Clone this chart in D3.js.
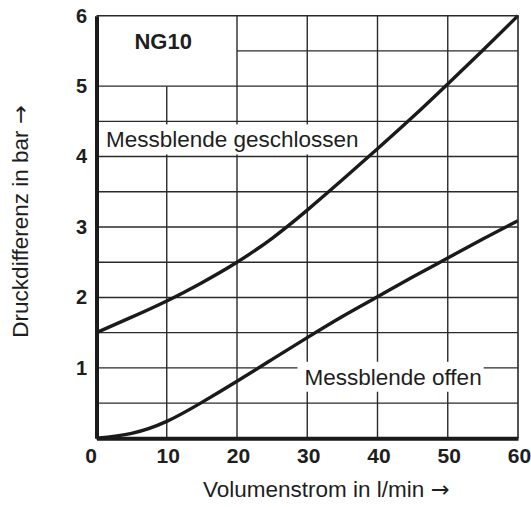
<!DOCTYPE html>
<html lang="de">
  <head>
    <meta charset="UTF-8" />
    <script src="https://d3js.org/d3.v7.min.js"></script>
    <title>NG10 Druckdifferenz</title>
    <style>
      body { margin: 0; background: #fff; }
      svg text { font-family: "Liberation Sans", Arial, sans-serif; fill: #1e1e1e; }
      .arrow { font-family: "DejaVu Sans", sans-serif; }
    </style>
  </head>
  <body>
    <svg width="531" height="507"></svg>
    <script>
      // Volumenstrom (l/min) and Druckdifferenz (bar)
      var flow = [0, 5, 10, 15, 20, 25, 30, 35, 40, 45, 50, 55, 60];
      var closedDp = [1.5, 1.72, 1.95, 2.21, 2.5, 2.84, 3.24, 3.67, 4.11, 4.56, 5.03, 5.51, 6.0];
      var openDp = [0, 0.07, 0.24, 0.51, 0.81, 1.12, 1.43, 1.73, 2.01, 2.29, 2.56, 2.83, 3.09];

      var xTicks = [0, 10, 20, 30, 40, 50, 60];
      var yTicks = [1, 2, 3, 4, 5, 6];
      var xGrid = [10, 20, 30, 40, 50];
      var yGrid = [0.5, 1, 1.5, 2, 2.5, 3, 3.5, 4, 4.5, 5, 5.5];

      var labels = [
        { text: "Messblende geschlossen", x: 1.35, y: 4.13 },
        { text: "Messblende offen", x: 29.6, y: 0.76 },
      ];

      var svg = d3.select("svg"),
        margin = { top: 15.7, right: 13, bottom: 68.7, left: 96.5 },
        width = +svg.attr("width") - margin.left - margin.right,
        height = +svg.attr("height") - margin.top - margin.bottom,
        g = svg
          .append("g")
          .attr("transform", "translate(" + margin.left + "," + margin.top + ")");

      var x = d3.scaleLinear().domain([0, 60]).range([0, width]);
      var y = d3.scaleLinear().domain([0, 6]).range([height, 0]);

      // grid, leaving the NG10 box (0-20, 5-6) empty
      g.append("g")
        .selectAll("line")
        .data(xGrid)
        .enter()
        .append("line")
        .attr("x1", function (d) { return x(d); })
        .attr("x2", function (d) { return x(d); })
        .attr("y1", function (d) { return d < 20 ? y(5) : y(6); })
        .attr("y2", y(0))
        .attr("stroke", "#2a2a2a")
        .attr("stroke-width", 1.4);

      g.append("g")
        .selectAll("line")
        .data(yGrid)
        .enter()
        .append("line")
        .attr("x1", function (d) { return d > 5 ? x(20) : x(0); })
        .attr("x2", x(60))
        .attr("y1", function (d) { return y(d); })
        .attr("y2", function (d) { return y(d); })
        .attr("stroke", "#2a2a2a")
        .attr("stroke-width", 1.4);

      // curve labels on white boxes
      var lab = g.append("g").selectAll("g").data(labels).enter().append("g");
      var labText = lab
        .append("text")
        .attr("x", function (d) { return x(d.x); })
        .attr("y", function (d) { return y(d.y); })
        .attr("font-size", 22.5)
        .text(function (d) { return d.text; });
      labText.each(function (d) {
        var b = this.getBBox();
        d3.select(this.parentNode)
          .insert("rect", "text")
          .attr("x", Math.max(0, b.x - 7))
          .attr("y", b.y - 3)
          .attr("width", b.width + 9)
          .attr("height", b.height + 5)
          .attr("fill", "#fff");
      });

      g.append("text")
        .attr("x", x(9.5))
        .attr("y", y(5.53))
        .attr("text-anchor", "middle")
        .attr("font-size", 22)
        .attr("font-weight", "bold")
        .text("NG10");

      var line = d3
        .line()
        .x(function (d) { return x(d[0]); })
        .y(function (d) { return y(d[1]); })
        .curve(d3.curveNatural);

      [closedDp, openDp].forEach(function (vals) {
        g.append("path")
          .datum(flow.map(function (f, i) { return [f, vals[i]]; }))
          .attr("fill", "none")
          .attr("stroke", "#1a1a1a")
          .attr("stroke-width", 3.4)
          .attr("d", line);
      });

      // thin top / right frame
      g.append("path")
        .attr("d", "M" + x(0) + "," + y(6) + "H" + x(60) + "V" + y(0))
        .attr("fill", "none")
        .attr("stroke", "#2a2a2a")
        .attr("stroke-width", 1.6);

      var yAxis = g
        .append("g")
        .call(
          d3.axisLeft(y).tickValues(yTicks).tickFormat(d3.format("d"))
            .tickSize(0).tickSizeOuter(0).tickPadding(9.5)
        );
      yAxis.select(".domain").attr("stroke", "#1a1a1a").attr("stroke-width", 4);
      yAxis
        .selectAll("text")
        .attr("font-size", 20)
        .attr("font-weight", "bold")
        .attr("font-family", "Liberation Sans, Arial, sans-serif")
        .attr("fill", "#1e1e1e");

      var xAxis = g
        .append("g")
        .attr("transform", "translate(0," + height + ")")
        .call(
          d3.axisBottom(x).tickValues(xTicks).tickFormat(d3.format("d"))
            .tickSize(0).tickSizeOuter(0).tickPadding(9.5)
        );
      xAxis.select(".domain").attr("stroke", "#1a1a1a").attr("stroke-width", 4);
      xAxis
        .selectAll("text")
        .attr("font-size", 21)
        .attr("font-weight", "bold")
        .attr("font-family", "Liberation Sans, Arial, sans-serif")
        .attr("fill", "#1e1e1e")
        .attr("dx", function (d) { return d === 0 ? -6 : 1; });

      // axis titles
      var xt = svg
        .append("text")
        .attr("x", 203)
        .attr("y", 497)
        .attr("font-size", 22.5);
      xt.append("tspan").text("Volumenstrom in l/min ");
      xt.append("tspan").attr("class", "arrow").text("\u2192");

      var yt = svg
        .append("text")
        .attr("transform", "translate(28," + 221.5 + ") rotate(-90)")
        .attr("text-anchor", "middle")
        .attr("font-size", 22.5);
      yt.append("tspan").text("Druckdifferenz in bar ");
      yt.append("tspan").attr("class", "arrow").text("\u2192");
    </script>
  </body>
</html>
